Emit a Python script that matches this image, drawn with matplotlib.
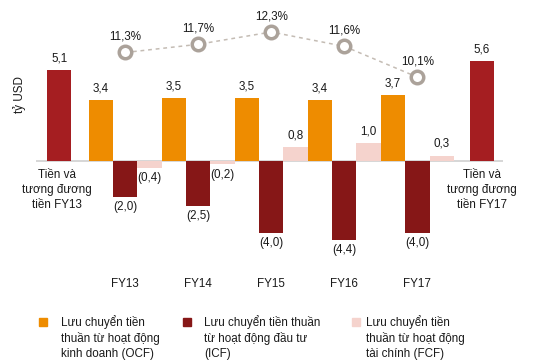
import numpy as np
import matplotlib
matplotlib.use("Agg")
import matplotlib.pyplot as plt
from matplotlib.patches import Rectangle

plt.rcParams['font.family'] = ['Liberation Sans', 'DejaVu Sans']

# data
years = ['FY13', 'FY14', 'FY15', 'FY16', 'FY17']
ocf = [3.4, 3.5, 3.5, 3.4, 3.7]
icf = [-2.0, -2.5, -4.0, -4.4, -4.0]
fcf = [-0.4, -0.2, 0.8, 1.0, 0.3]
margin = [11.3, 11.7, 12.3, 11.6, 10.1]
cash_start = 5.1
cash_end = 5.6
cash_labels = ['Tiền và\ntương đương\ntiền FY13', 'Tiền và\ntương đương\ntiền FY17']
legend_labels = ['Lưu chuyển tiền\nthuần từ hoạt động\nkinh doanh (OCF)',
                 'Lưu chuyển tiền thuần\ntừ hoạt động đầu tư\n(ICF)',
                 'Lưu chuyển tiền\nthuần từ hoạt động\ntài chính (FCF)']

c_cash = '#A51E21'
c_ocf = '#EE8C00'
c_icf = '#861717'
c_fcf = '#F5D3CD'
c_line = '#C4BCB4'
c_mark = '#ABA29A'
txt = '#1a1a1a'


def fmt(v):
    s = f"{abs(v):.1f}".replace('.', ',')
    return f"({s})" if v < 0 else s


fig = plt.figure(figsize=(5.4, 3.6), dpi=100)
ax = fig.add_axes([36 / 540, 60 / 360, 467 / 540, 300 / 360])

idx = np.arange(len(years))
x_ocf = 1 + 3 * idx
x_icf = 2 + 3 * idx
x_fcf = 3 + 3 * idx
x_start, x_end = -0.72, 16.65

ax.bar(x_start, cash_start, width=1, color=c_cash)
ax.bar(x_end, cash_end, width=1, color=c_cash)
ax.bar(x_ocf, ocf, width=1, color=c_ocf)
ax.bar(x_icf, icf, width=1, color=c_icf)
ax.bar(x_fcf, fcf, width=1, color=c_fcf)

ax.set_xlim(-1.67, 17.52)
ax.set_ylim(-7.77, 8.99)
ax.axhline(0, color='#d0d0d0', lw=1.2, zorder=0)
for s in ax.spines.values():
    s.set_visible(False)
ax.set_xticks([])
ax.set_yticks([])

fs = 8.4
ax.set_ylabel('tỷ USD', fontsize=fs, color=txt)
ax.yaxis.set_label_coords(-0.021, 1 - 95 / 300)

for xs, vals in [([x_start, x_end], [cash_start, cash_end]),
                 (x_ocf, ocf), (x_icf, icf), (x_fcf, fcf)]:
    for x, v in zip(xs, vals):
        if v >= 0:
            ax.annotate(fmt(v), (x, v), xytext=(0, 4), textcoords='offset points',
                        ha='center', va='bottom', fontsize=fs, color=txt)
        else:
            ax.annotate(fmt(v), (x, v), xytext=(0, -3), textcoords='offset points',
                        ha='center', va='top', fontsize=fs, color=txt)

for x, lab in zip([x_start - 0.1, x_end], cash_labels):
    ax.text(x, -0.45, lab, ha='center', va='top', fontsize=fs, color=txt,
            linespacing=1.35)

for x, y in zip(x_icf, years):
    ax.text(x, -6.85, y, ha='center', va='center', fontsize=fs, color=txt)

# margin line on hidden twin axis
ax2 = ax.twinx()
ax2.set_ylim(-0.77, 13.86)
ax2.axis('off')
ax2.plot(x_icf, margin, ls=(0, (2.5, 2.5)), color=c_line, lw=1.1, zorder=1)
ax2.plot(x_icf, margin, ls='none', marker='o', ms=9, mfc='white',
         mec=c_mark, mew=2.5, zorder=2)
for x, m in zip(x_icf, margin):
    ax2.annotate(f"{m:.1f}%".replace('.', ','), (x, m), xytext=(0, 7),
                 textcoords='offset points', ha='center', va='bottom',
                 fontsize=fs, color=txt)

# legend drawn by hand
for (lx, tx), col, lab in zip([(39, 61), (183, 204), (352, 366)],
                              [c_ocf, c_icf, c_fcf], legend_labels):
    fig.patches.append(Rectangle((lx / 540, 1 - 326 / 360), 8 / 540, 8 / 360,
                                 transform=fig.transFigure, color=col))
    fig.text(tx / 540, 1 - 315 / 360, lab, ha='left', va='top', fontsize=fs,
             color=txt, linespacing=1.3)

fig.savefig('out.png', dpi=100)
